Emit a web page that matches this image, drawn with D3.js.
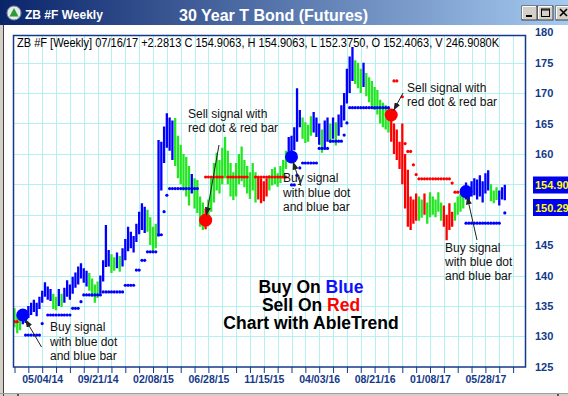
<!DOCTYPE html>
<html>
<head>
<meta charset="utf-8">
<style>
  html, body { margin: 0; padding: 0; background: #fff; }
  svg { display: block; font-family: "Liberation Sans", Arial, sans-serif; }
</style>
</head>
<body>
<svg id="chart" width="568" height="396"></svg>
<script src="https://cdn.jsdelivr.net/npm/d3@7"></script>
<script>
// ZB #F weekly bars, one entry per week starting Sunday 02/23/14
const startWeek = new Date(2014, 1, 23);

const highs = [
  134.6, 133.5, 134.0, 134.5, 134.3, 135.0, 135.5, 136.0, 135.5, 136.5,
  137.5, 138.9, 138.2, 137.8, 137.0, 136.5, 137.8, 137.0, 138.0, 139.2,
  138.5, 139.8, 140.5, 141.5, 142.0, 141.2, 140.8, 140.4, 139.5, 138.5,
  139.0, 140.0, 142.5, 148.3, 144.2, 143.5, 143.0, 143.8, 143.2, 144.5,
  146.0, 148.0, 147.2, 146.5, 148.5, 150.5, 151.9, 151.3, 150.8, 149.6,
  148.0, 148.5, 162.3, 162.0, 164.5, 166.7, 166.0, 165.5, 165.9, 163.0,
  161.5, 160.0, 159.5, 158.0, 156.7, 156.0, 155.7, 153.0, 152.0, 151.0,
  152.5, 156.0, 158.5, 160.2, 159.0, 161.0, 162.8, 160.5, 158.5, 157.0,
  158.5, 160.0, 161.2, 159.0, 158.0, 157.0, 158.5, 157.0, 156.2, 156.0,
  155.5, 156.0, 156.5, 157.5, 157.8, 156.8, 158.0, 159.0, 160.5, 162.8,
  163.0, 164.4, 170.8, 167.2, 166.0, 165.2, 164.8, 166.2, 166.9, 166.0,
  165.0, 164.0, 165.5, 166.0, 165.0, 166.0, 165.2, 166.5, 168.0, 170.0,
  174.0, 176.0, 177.6, 175.4, 175.0, 174.0, 175.0, 173.3, 172.6, 172.0,
  171.0, 170.5, 168.9, 168.4, 168.0, 167.7, 167.0, 165.0, 164.0, 162.0,
  165.0, 160.0, 157.4, 153.0, 152.5, 153.5, 153.0, 152.5, 153.5, 152.0,
  153.7, 153.0, 152.5, 153.7, 152.0, 151.5, 150.0, 151.9, 150.5, 152.0,
  153.0, 153.5, 154.0, 155.3, 154.5, 155.5, 156.0, 155.8, 156.5, 155.5,
  156.8, 157.3, 155.0, 154.0, 154.5, 154.0, 154.5, 154.9063
];

const lows = [
  131.5, 130.5, 131.0, 132.0, 132.2, 133.0, 133.5, 134.0, 133.3, 134.5,
  135.5, 136.5, 136.0, 135.8, 134.5, 134.3, 135.0, 134.8, 135.5, 136.5,
  136.0, 137.0, 138.0, 138.5, 139.5, 138.8, 138.2, 137.5, 136.5, 135.5,
  136.3, 137.0, 139.0, 141.4, 141.5, 140.4, 140.8, 141.2, 140.6, 141.5,
  142.5, 144.0, 144.5, 143.8, 145.5, 146.8, 147.5, 147.0, 147.2, 145.0,
  143.7, 144.5, 146.4, 154.0, 158.5, 161.0, 160.5, 159.0, 158.0, 156.0,
  155.0, 154.0, 153.0, 151.5, 153.5, 151.0, 150.3, 148.0, 147.5, 147.6,
  148.5, 150.5, 152.0, 154.0, 153.5, 155.0, 156.0, 155.0, 153.0, 152.4,
  153.0, 155.0, 155.5, 154.5, 153.5, 152.6, 154.0, 152.0, 152.5, 151.9,
  152.2, 153.0, 154.0, 154.8, 155.0, 154.6, 155.2, 156.0, 157.5, 159.0,
  159.0, 160.6, 162.0, 164.4, 162.5, 161.8, 162.0, 163.0, 163.5, 162.8,
  161.5, 160.2, 161.0, 162.0, 161.8, 162.5, 161.4, 163.0, 164.4, 165.5,
  168.3, 170.0, 172.0, 171.5, 170.8, 170.0, 171.0, 169.5, 168.5, 167.5,
  167.2, 166.5, 165.0, 164.4, 164.0, 163.5, 162.0, 160.0, 159.0, 157.5,
  155.0, 151.0, 148.0, 147.5, 148.5, 149.0, 149.0, 149.5, 150.0, 148.5,
  149.6, 150.0, 149.6, 150.5, 149.0, 148.0, 145.8, 147.5, 148.0, 149.0,
  150.0, 150.5, 151.0, 152.5, 152.2, 153.0, 153.2, 152.5, 153.0, 152.0,
  153.5, 154.0, 152.2, 151.9, 152.4, 151.5, 152.5, 152.375
];

// AbleTrend bar state per week: B = up (blue), G = neutral (green), R = down (red)
const trendCodes = (
  "GGG" + "BBBBBBBBBBB" + "GG" + "B" + "G" + "BBBBBBBBB" + "GGGG" + "BBBB" +
  "GG" + "B" + "G" + "BBBBBBBBB" + "GGGG" + "BBBBBB" + "GGGGGG" + "B" + "GGGG" +
  "R" + "GGGGGGGGGGGGGGGGGG" + "RRRR" + "GGGGGGG" + "BBBBB" + "GGGG" + "BBB" +
  "G" + "BB" + "G" + "B" + "G" + "BBBBBB" + "GGG" + "B" + "GGGGGGGGG" +
  "RRRRRRRRRR" + "GG" + "R" + "GGGGGG" + "RRRR" + "GGGG" + "BBBBBBBBB" + "GGG" + "BBB"
).split("");

// trailing stop level per week (dots); support while long, resistance while short
const stopLevels = [
  132.4, 132.4, null, null, 130.2, 130.2, 130.2, 130.2, 130.2, 130.2,
  132.1, null, 133.5, 133.5, 133.5, 133.5, 133.5, 133.5, 133.5, 133.5,
  133.5, 134.6, 134.6, 134.6, 135.7, 136.8, 136.8, 136.8, 136.8, 136.8,
  136.8, 136.8, 137.3, 137.3, 137.3, 137.3, 137.3, 137.3, 137.3, 137.3,
  138.4, 138.4, 138.4, 138.4, 140.9, 140.9, 142.5, 142.5, 143.9, 143.9,
  143.9, 143.9, 146.7, 146.7, 150.5, 153.2, 154.3, 154.3, 154.3, 154.3,
  154.3, 154.3, 154.3, 154.3, 154.3, 154.3, 154.3, null, null, 156.2,
  156.2, 156.2, 156.2, 156.2, 156.2, 156.2, null, 156.2, 156.2, 156.2,
  156.2, 156.2, 156.2, 156.2, 156.2, null, null, 156.2, 156.2, 156.2,
  156.2, 156.2, 156.2, 156.2, 156.2, 156.2, 156.2, 156.2, 156.2, null,
  154.9, 154.9, 156.5, 157.7, 158.5, 158.5, 158.5, 158.5, 158.5, 158.5,
  160.9, 160.9, 160.9, 160.9, 162.1, 162.1, 162.1, 162.1, 162.1, 163.1,
  165.1, 167.6, 167.6, 167.6, 167.6, 167.6, 167.6, 167.6, 167.6, 167.6,
  167.6, 167.6, 167.6, 167.6, 167.6, 167.6, null, 172.0, 172.0, null,
  169.4, 161.7, 160.4, 160.4, 158.2, 156.6, 155.9, 155.9, 155.9, 155.9,
  155.9, 155.9, 155.9, 155.9, 155.9, 155.9, 155.9, 155.9, 155.2, 153.7,
  153.7, null, null, 148.6, 148.6, 148.6, 148.6, 148.6, 148.6, 148.6,
  148.6, 148.6, 148.6, 148.6, 148.6, 148.6, null, 150.29
];

// signal weeks (index into the weekly arrays) and the price of the big dot
const signalWeeks = [3, 69, 100, 136, 163];
const signalSides = ["buy", "sell", "buy", "sell", "buy"];
const signalPrices = [133.5, 149.1, 159.5, 166.4, 153.8];

const priceTicks = [125, 130, 135, 140, 145, 150, 155, 160, 165, 170, 175, 180];
const lastPrices = [154.9063, 150.29];

const windowTitle = "ZB #F Weekly";
const chartTitle = "30 Year T Bond (Futures)";
const headerText = "ZB #F [Weekly] 07/16/17  +2.2813 C 154.9063, H 154.9063, L 152.3750, O 152.4063, V 246.9080K";

(function () {
  "use strict";

  const svg = d3.select("#chart");
  const plot = { left: 13.5, right: 525.5, top: 35.5, bottom: 367 };

  const trendColor = { B: "#0000ff", G: "#22e622", R: "#ff0000" };
  const sideColor = { buy: "#0000ff", sell: "#ff0000" };
  const navy = "#13398a";

  const weeks = highs.map((h, i) => d3.timeWeek.offset(startWeek, i));
  const x = d3.scaleTime().domain([weeks[0], weeks[weeks.length - 1]]).range([14.5, 504.8]);
  const y = d3.scaleLinear().domain([125, 180]).range([366.7, 32.3]);

  // which side is active at week i (before the first signal the market was short)
  function sideAt(i) {
    let side = "sell";
    signalWeeks.forEach((w, k) => { if (w <= i) side = signalSides[k]; });
    return side;
  }

  const defs = svg.append("defs");
  const grad = defs.append("linearGradient").attr("id", "titlebar").attr("x1", 0).attr("x2", 1);
  grad.append("stop").attr("offset", 0).attr("stop-color", "#0a246a");
  grad.append("stop").attr("offset", 1).attr("stop-color", "#a6caf0");
  defs.append("marker")
    .attr("id", "arrow").attr("viewBox", "0 0 8 6")
    .attr("refX", 8).attr("refY", 3)
    .attr("markerWidth", 8).attr("markerHeight", 6)
    .attr("markerUnits", "userSpaceOnUse").attr("orient", "auto")
    .append("path").attr("d", "M0,0 L8,3 L0,6 Z").attr("fill", "#222");
  defs.append("clipPath").attr("id", "plotclip")
    .append("rect").attr("x", plot.left).attr("y", plot.top)
    .attr("width", plot.right - plot.left).attr("height", plot.bottom - plot.top);

  // window chrome
  svg.append("rect").attr("width", 568).attr("height", 396).attr("fill", "#d4d0c8");
  svg.append("rect").attr("x", 4).attr("y", 25).attr("width", 564).attr("height", 368).attr("fill", "#fff");
  svg.append("line").attr("x1", 3.5).attr("x2", 3.5).attr("y1", 25).attr("y2", 396).attr("stroke", "#404040");
  svg.append("line").attr("x1", 0).attr("x2", 568).attr("y1", 393.5).attr("y2", 393.5).attr("stroke", "#a0a0a0");
  [18, 558].forEach((bx) => {
    svg.append("line").attr("x1", bx).attr("x2", bx).attr("y1", 394).attr("y2", 396).attr("stroke", "#303030").attr("stroke-width", 1.5);
  });

  svg.append("rect").attr("width", 568).attr("height", 25).attr("fill", "url(#titlebar)");
  const icon = svg.append("g").attr("transform", "translate(14,13)");
  icon.append("circle").attr("r", 7).attr("fill", "#e8ece8").attr("stroke", "#7a8a9a");
  icon.append("path").attr("d", "M0,-5 L4.5,3.5 L-4.5,3.5 Z").attr("fill", "#2a9a3a");
  svg.append("text").attr("x", 25).attr("y", 19)
    .attr("fill", "#fff").attr("font-weight", "bold").attr("font-size", 12).text(windowTitle);
  svg.append("text").attr("x", 179).attr("y", 20.5)
    .attr("fill", "#fff").attr("font-weight", "bold").attr("font-size", 16).text(chartTitle);

  [522, 538, 556].forEach((bx, k) => {
    const b = svg.append("g").attr("transform", `translate(${bx},6)`);
    b.append("rect").attr("width", 15).attr("height", 14).attr("fill", "#d4d0c8").attr("stroke", "#404040");
    b.append("path").attr("d", "M0.5,13 V0.5 H14").attr("fill", "none").attr("stroke", "#fff");
    if (k === 0) b.append("rect").attr("x", 4).attr("y", 9).attr("width", 6).attr("height", 2).attr("fill", "#000");
    if (k === 1) {
      b.append("rect").attr("x", 3.5).attr("y", 3).attr("width", 8).attr("height", 7.5)
        .attr("fill", "none").attr("stroke", "#000").attr("stroke-width", 1);
      b.append("line").attr("x1", 3.5).attr("x2", 11.5).attr("y1", 4).attr("y2", 4).attr("stroke", "#000");
    }
    if (k === 2) b.append("path").attr("d", "M4,3 L11,10 M11,3 L4,10").attr("stroke", "#000").attr("stroke-width", 1.6);
  });

  // grid
  const tickDates = d3.timeWeek.range(startWeek, x.invert(plot.right), 5);
  const grid = svg.append("g").attr("stroke", "#b2f2f2").attr("stroke-width", 1);
  grid.selectAll("line.v").data(tickDates.filter((d) => x(d) > plot.left + 1)).join("line")
    .attr("class", "v")
    .attr("x1", (d) => Math.round(x(d)) + 0.5).attr("x2", (d) => Math.round(x(d)) + 0.5)
    .attr("y1", plot.top).attr("y2", plot.bottom);
  grid.selectAll("line.h").data(priceTicks.filter((p) => y(p) > plot.top + 1 && y(p) < plot.bottom - 1)).join("line")
    .attr("class", "h")
    .attr("x1", plot.left).attr("x2", plot.right)
    .attr("y1", (p) => Math.round(y(p)) + 0.5).attr("y2", (p) => Math.round(y(p)) + 0.5);

  // header line
  svg.append("text").attr("x", 17).attr("y", 46.5)
    .attr("font-size", 12).attr("fill", "#000")
    .attr("textLength", 482).attr("lengthAdjust", "spacingAndGlyphs")
    .text(headerText);

  const layer = svg.append("g").attr("clip-path", "url(#plotclip)");

  // bars
  layer.append("g").selectAll("line").data(weeks).join("line")
    .attr("x1", (d) => x(d)).attr("x2", (d) => x(d))
    .attr("y1", (d, i) => y(highs[i])).attr("y2", (d, i) => y(lows[i]))
    .attr("stroke", (d, i) => trendColor[trendCodes[i]])
    .attr("stroke-width", 2.3);

  // stop dots
  const stopIdx = stopLevels.map((v, i) => i).filter((i) => stopLevels[i] !== null);
  layer.append("g").selectAll("circle").data(stopIdx).join("circle")
    .attr("cx", (i) => x(weeks[i])).attr("cy", (i) => y(stopLevels[i]))
    .attr("r", 1.6)
    .attr("fill", (i) => sideColor[sideAt(i)]);

  // signal dots
  layer.append("g").selectAll("circle").data(signalWeeks).join("circle")
    .attr("cx", (w) => x(weeks[w])).attr("cy", (w, k) => y(signalPrices[k]))
    .attr("r", 6.5)
    .attr("fill", (w, k) => sideColor[signalSides[k]]);

  // frame
  svg.append("rect").attr("x", plot.left).attr("y", plot.top)
    .attr("width", plot.right - plot.left).attr("height", plot.bottom - plot.top)
    .attr("fill", "none").attr("stroke", navy).attr("stroke-width", 1.5);

  // axes
  const fmt = d3.timeFormat("%m/%d/%y");
  const xAxis = svg.append("g").attr("transform", `translate(0,${plot.bottom})`)
    .call(d3.axisBottom(x).tickValues(tickDates).tickSize(6).tickPadding(3)
      .tickFormat((d, k) => ((k - 2) % 4 === 0 ? fmt(d) : "")));
  xAxis.select(".domain").remove();
  xAxis.selectAll("line").attr("stroke", navy);
  xAxis.selectAll("text").attr("fill", navy).attr("font-size", 10.5).attr("font-weight", "bold")
    .attr("font-family", "'Liberation Sans', Arial, sans-serif");

  // last price / last stop boxes sit on the price scale and hide the labels under them
  const boxY = [176.5, 199];
  const hidden = (p) => boxY.some((b) => y(p) > b - 6 && y(p) < b + 23);
  const yAxis = svg.append("g").attr("transform", "translate(531,0)")
    .call(d3.axisRight(y).tickValues(priceTicks.filter((p) => !hidden(p))).tickSize(0).tickPadding(4));
  yAxis.select(".domain").remove();
  yAxis.selectAll("text").attr("fill", navy).attr("font-size", 11).attr("font-weight", "bold")
    .attr("font-family", "'Liberation Sans', Arial, sans-serif");

  lastPrices.forEach((p, k) => {
    svg.append("rect").attr("x", 533).attr("y", boxY[k]).attr("width", 40).attr("height", 17).attr("fill", "#0000f0");
    svg.append("text").attr("x", 535).attr("y", boxY[k] + 12.5)
      .attr("fill", "#ffff00").attr("font-size", 11).attr("font-weight", "bold")
      .text(k === 0 ? p.toFixed(4) : p.toFixed(2) + "00");
  });

  // annotations: text block and the arrow tail, arrow head goes to the signal dot
  const notes = [
    { sig: 0, x: 50, y: [331, 346, 360], lines: ["Buy signal", "with blue dot", "and blue bar"], tail: [41.5, 347] },
    { sig: 1, x: 188, y: [117.5, 131.5], lines: ["Sell signal with", "red dot & red bar"], tail: [219, 145] },
    { sig: 2, x: 283, y: [182, 196.5, 211], lines: ["Buy signal", "with blue dot", "and blue bar"], tail: [301, 186] },
    { sig: 3, x: 407, y: [91.5, 106], lines: ["Sell signal with", "red dot & red bar"], tail: [403, 93] },
    { sig: 4, x: 445, y: [252, 266, 280], lines: ["Buy signal", "with blue dot", "and blue bar"], tail: [477, 240] },
  ];
  const noteG = svg.append("g");
  notes.forEach((n) => {
    const cx = x(weeks[signalWeeks[n.sig]]);
    const cy = y(signalPrices[n.sig]);
    const dx = n.tail[0] - cx, dy = n.tail[1] - cy;
    const len = Math.hypot(dx, dy);
    noteG.append("line")
      .attr("x1", n.tail[0]).attr("y1", n.tail[1])
      .attr("x2", cx + (dx / len) * 5).attr("y2", cy + (dy / len) * 5)
      .attr("stroke", "#222").attr("stroke-width", 1).attr("marker-end", "url(#arrow)");
    n.lines.forEach((t, k) => {
      noteG.append("text").attr("x", n.x).attr("y", n.y[k])
        .attr("font-size", 12).attr("fill", "#111").text(t);
    });
  });

  // centre legend
  const legend = svg.append("g").attr("font-size", 17.5).attr("font-weight", "bold").attr("text-anchor", "middle");
  const l1 = legend.append("text").attr("x", 311).attr("y", 292.5);
  l1.append("tspan").attr("fill", "#000").text("Buy On ");
  l1.append("tspan").attr("fill", "#1010ff").text("Blue");
  const l2 = legend.append("text").attr("x", 311).attr("y", 310.5);
  l2.append("tspan").attr("fill", "#000").text("Sell On ");
  l2.append("tspan").attr("fill", "#ff0000").text("Red");
  legend.append("text").attr("x", 311).attr("y", 328.5).attr("fill", "#000").text("Chart with AbleTrend");
})();
</script>
</body>
</html>
